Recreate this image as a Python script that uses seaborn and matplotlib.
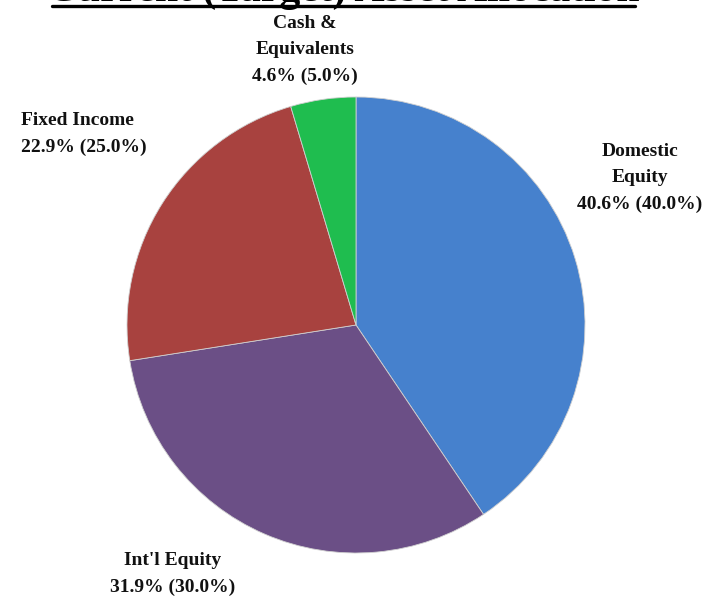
import matplotlib.pyplot as plt
import seaborn as sns
from matplotlib.lines import Line2D

# data
categories = ['Domestic\nEquity', "Int'l Equity", 'Fixed Income', 'Cash &\nEquivalents']
current = [40.6, 31.9, 22.9, 4.6]
target = [40.0, 30.0, 25.0, 5.0]
colors = ['#4681cd', '#6b4f86', '#a8423f', '#1fbd4f']

sns.set_style('white')
plt.rcParams['font.family'] = ['Liberation Serif', 'DejaVu Serif']

W, H = 704, 597
fig = plt.figure(figsize=(W / 100, H / 100), dpi=100)
# axes box matches the pie circle (pixels 127..585 x 97..553)
ax = fig.add_axes([127 / W, 1 - 553 / H, 458 / W, 456 / H])

wedges, _ = ax.pie(current, colors=sns.color_palette(colors), startangle=90,
                   counterclock=False, radius=1,
                   wedgeprops=dict(edgecolor='#d0d0d0', linewidth=0.6))
ax.set_aspect('auto')
ax.set_xlim(-1, 1)
ax.set_ylim(-1, 1)

labels = [f'{c}\n{v:.1f}% ({t:.1f}%)' for c, v, t in zip(categories, current, target)]
# label centre positions in figure pixels and alignment
pos = [(640, 178, 'center'), (173, 574, 'center'), (21, 134, 'left'), (305, 50, 'center')]
for lab, (x, y, ha) in zip(labels, pos):
    fig.text(x / W, 1 - y / H, lab, ha=ha, va='center', fontsize=14,
             fontweight='bold', linespacing=1.7, color='#111111')

# underlined title, mostly clipped off the top edge as in the source
fig.text(343 / W, 1 - 1 / H, 'Current (Target) Asset Allocation', ha='center',
         va='baseline', fontsize=30, fontweight='bold', color='black')
fig.add_artist(Line2D([52 / W, 635 / W], [1 - 5.5 / H, 1 - 5.5 / H],
                      transform=fig.transFigure, color='black', linewidth=2.4))

fig.savefig('out.png', dpi=100)
